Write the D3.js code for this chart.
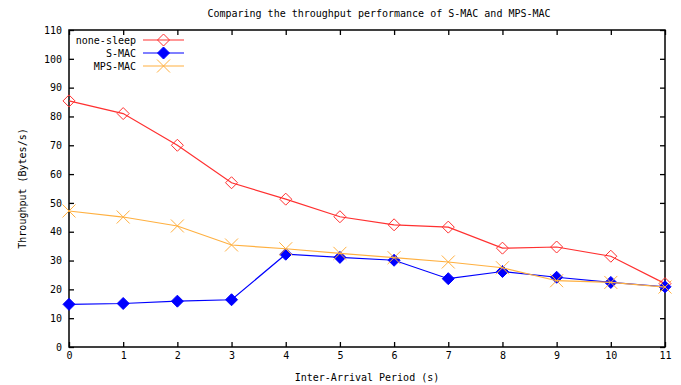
<!DOCTYPE html>
<html>
<head>
<meta charset="utf-8">
<script src="https://cdn.jsdelivr.net/npm/d3@7"></script>
<style>
  body { margin: 0; background: #fff; }
  svg text { font-family: "DejaVu Sans Mono", monospace; font-size: 10px; fill: #000; }
</style>
</head>
<body>
<svg id="chart" width="681" height="385"></svg>
<script>
// data
const periods = [0, 1, 2, 3, 4, 5, 6, 7, 8, 9, 10, 11];
const noneSleep = [85.4, 81, 70, 57, 51.3, 45.2, 42.4, 41.6, 34.3, 34.7, 31.5, 22];
const sMac = [14.8, 15.1, 15.9, 16.4, 32.2, 31.1, 30.1, 23.7, 26.2, 24.2, 22.4, 20.9];
const mpsMac = [47.2, 45.1, 42, 35.4, 34.1, 32.5, 31, 29.5, 27.5, 23, 22.4, 20.8];
const yTicks = d3.range(0, 111, 10);

const series = [
    {name: "none-sleep", values: noneSleep, color: "#ff3030", marker: "diamondOpen"},
    {name: "S-MAC", values: sMac, color: "#0000ff", marker: "diamondFilled"},
    {name: "MPS-MAC", values: mpsMac, color: "#ffb040", marker: "cross"}
];

const svg = d3.select("#chart");
const plotL = 69, plotR = 665, plotT = 30, plotB = 347;

const x = d3.scaleLinear().domain([0, 11]).range([plotL, plotR]);
const y = d3.scaleLinear().domain([0, 110]).range([plotB, plotT]);

// ticks on all four sides, pointing inward
const axisG = svg.append("g");
axisG.append("g").attr("transform", `translate(0,${plotB})`)
    .call(d3.axisBottom(x).tickValues(periods).tickSize(-5).tickPadding(5));
axisG.append("g").attr("transform", `translate(0,${plotT})`)
    .call(d3.axisTop(x).tickValues(periods).tickSize(-5).tickFormat(""));
axisG.append("g").attr("transform", `translate(${plotL},0)`)
    .call(d3.axisLeft(y).tickValues(yTicks).tickSize(-5).tickPadding(7));
axisG.append("g").attr("transform", `translate(${plotR},0)`)
    .call(d3.axisRight(y).tickValues(yTicks).tickSize(-5).tickFormat(""));
axisG.selectAll(".domain").remove();
axisG.selectAll(".tick line").attr("stroke", "#000").attr("stroke-width", 1.3);
axisG.selectAll("text").style("font-family", "DejaVu Sans Mono, monospace").style("font-size", "10px");

svg.append("rect")
    .attr("x", plotL).attr("y", plotT)
    .attr("width", plotR - plotL).attr("height", plotB - plotT)
    .attr("fill", "none").attr("stroke", "#000").attr("stroke-width", 1.5);

// markers
function drawMarker(g, type, color, cx, cy) {
    if (type === "diamondOpen") {
        g.append("path").attr("d", `M${cx},${cy - 6}L${cx + 6},${cy}L${cx},${cy + 6}L${cx - 6},${cy}Z`)
            .attr("fill", "none").attr("stroke", color).attr("stroke-width", 1);
    } else if (type === "diamondFilled") {
        g.append("path").attr("d", `M${cx},${cy - 6}L${cx + 6},${cy}L${cx},${cy + 6}L${cx - 6},${cy}Z`)
            .attr("fill", color).attr("stroke", color).attr("stroke-width", 1);
    } else {
        g.append("path").attr("d", `M${cx - 6.5},${cy - 6.5}L${cx + 6.5},${cy + 6.5}M${cx - 6.5},${cy + 6.5}L${cx + 6.5},${cy - 6.5}`)
            .attr("fill", "none").attr("stroke", color).attr("stroke-width", 1);
    }
}

const line = d3.line().x((d, i) => x(periods[i])).y(d => y(d));

series.forEach(s => {
    const g = svg.append("g");
    g.append("path").datum(s.values).attr("d", line)
        .attr("fill", "none").attr("stroke", s.color).attr("stroke-width", 1.2);
    s.values.forEach((v, i) => drawMarker(g, s.marker, s.color, x(periods[i]), y(v)));
});

// legend
series.forEach((s, i) => {
    const ly = 40 + i * 13;
    svg.append("text").attr("x", 136).attr("y", ly).attr("dy", "0.35em")
        .attr("text-anchor", "end").text(s.name);
    svg.append("line").attr("x1", 143).attr("x2", 184).attr("y1", ly).attr("y2", ly)
        .attr("stroke", s.color).attr("stroke-width", 1.2);
    drawMarker(svg, s.marker, s.color, 163.5, ly);
});

// titles
svg.append("text").attr("x", 379).attr("y", 13).attr("dy", "0.35em")
    .attr("text-anchor", "middle").text("Comparing the throughput performance of S-MAC and MPS-MAC");
svg.append("text").attr("x", 367).attr("y", 377).attr("dy", "0.35em")
    .attr("text-anchor", "middle").text("Inter-Arrival Period (s)");
svg.append("text").attr("transform", `translate(22,${(plotT + plotB) / 2}) rotate(-90)`)
    .attr("dy", "0.35em").attr("text-anchor", "middle").text("Throughput (Bytes/s)");
</script>
</body>
</html>
